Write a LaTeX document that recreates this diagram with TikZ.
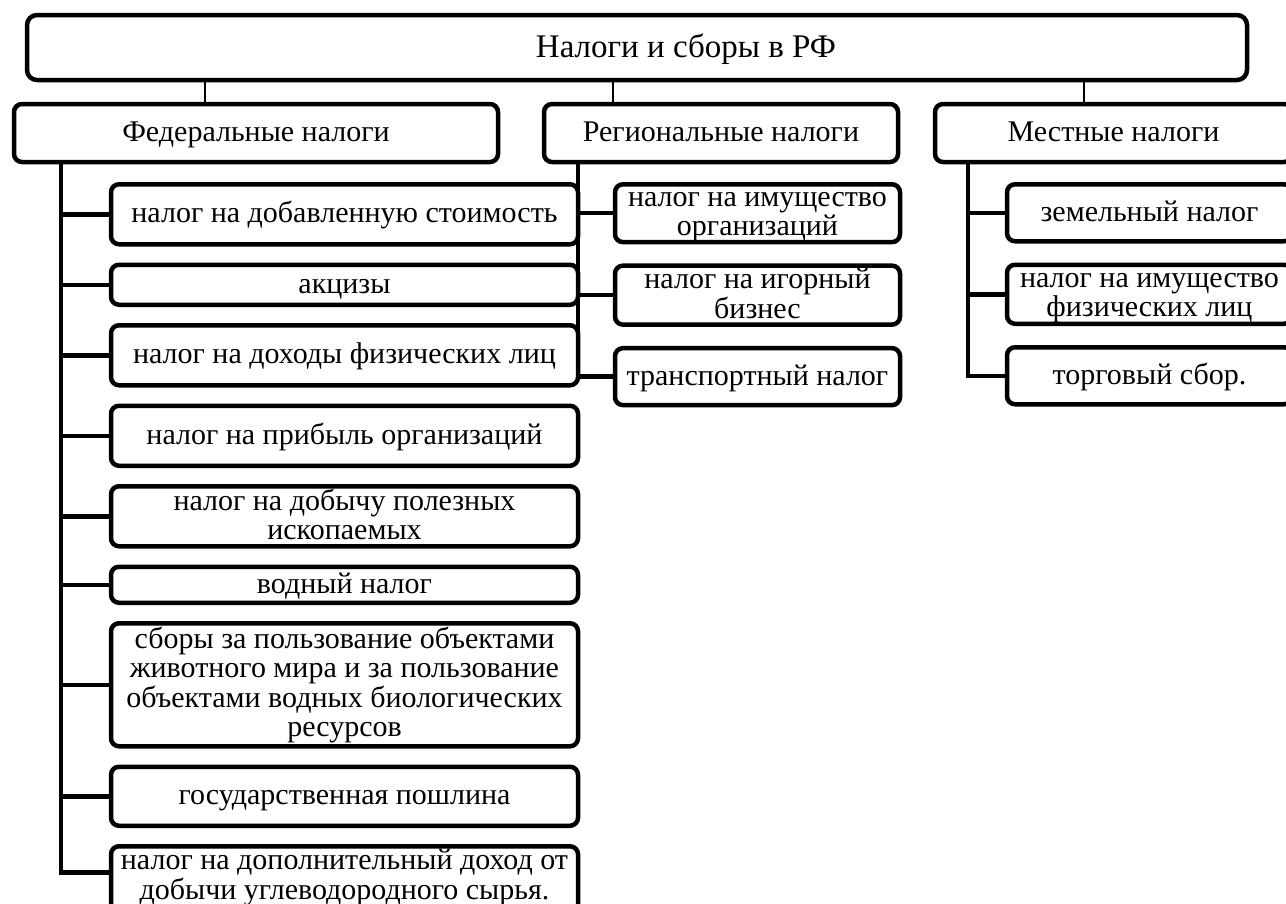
\documentclass[tikz,border=0pt]{standalone}
\usepackage{fontspec}
\setmainfont{Liberation Serif}
\usetikzlibrary{positioning}

\newcommand{\taxstrut}{\rule[-5pt]{0pt}{27pt}}

\begin{document}
\begin{tikzpicture}[
    x=1pt, y=-1pt,
    node distance=16pt,
    taxbox/.style={draw, line width=4.5pt, rounded corners=8pt, inner sep=0pt, text height=22pt, text depth=5pt, font=\fontsize{30}{29.5}\selectfont},
    lines/.style={align=center, text height=, text depth=},
    rootbox/.style={taxbox, rounded corners=10pt, minimum width=1220pt, minimum height=65pt, text height=24pt, font=\fontsize{33}{36}\selectfont},
    headbox/.style={taxbox, minimum height=58pt},
    fedbox/.style={taxbox, minimum width=467pt},
    sidebox/.style={taxbox, minimum width=285pt},
    link/.style={line width=4.5pt},
    stem/.style={line width=1.5pt}
]
\clip (0,0) rectangle (1286,903);

% Nodes
\node[rootbox] (root) at (637,47.5) {\hspace*{98pt}Налоги и сборы в РФ};

\node[headbox, minimum width=484pt] (federal) at (256,133) {Федеральные налоги};
\node[headbox, minimum width=354pt] (regional) at (721,133) {Региональные налоги};
\node[headbox, minimum width=357pt] (local) at (1113.5,133) {Местные налоги};

\node[fedbox, minimum height=60pt, anchor=north] (vat) at (344.5,182) {налог на добавленную стоимость};
\node[fedbox, minimum height=40pt, below=of vat] (excise) {акцизы};
\node[fedbox, minimum height=60pt, below=of excise] (ndfl) {налог на доходы физических лиц};
\node[fedbox, minimum height=60pt, below=of ndfl] (profit) {налог на прибыль организаций};
\node[fedbox, lines, minimum height=60pt, below=of profit] (mining) {\taxstrut налог на добычу полезных\\ископаемых\taxstrut};
\node[fedbox, minimum height=36pt, below=of mining] (water) {водный налог};
\node[fedbox, lines, minimum height=123pt, below=of water] (fauna) {\taxstrut сборы за пользование объектами\\животного мира и за пользование\\объектами водных биологических\\ресурсов\taxstrut};
\node[fedbox, minimum height=59pt, below=of fauna] (duty) {государственная пошлина};
\node[fedbox, lines, minimum height=70pt, below=of duty] (extra) {\taxstrut налог на дополнительный доход от\\добычи углеводородного сырья.\rule[-16pt]{0pt}{0pt}};

\node[sidebox, lines, minimum height=57pt, anchor=north] (property) at (757.5,182) {\taxstrut налог на имущество\\организаций\taxstrut};
\node[sidebox, lines, minimum height=59pt, below=19pt of property] (gambling) {\taxstrut налог на игорный\\бизнес\taxstrut};
\node[sidebox, minimum height=57pt, below=19pt of gambling] (transport) {транспортный налог};

\node[sidebox, minimum height=57pt, anchor=north] (land) at (1149.5,182) {земельный налог};
\node[sidebox, lines, minimum height=59pt, below=19pt of land] (estate) {\taxstrut налог на имущество\\физических лиц\taxstrut};
\node[sidebox, minimum height=57pt, below=19pt of estate] (trade) {торговый сбор.};

% Lines
\coordinate (fedstem) at ([xshift=193.25pt]federal.north west);
\coordinate (regstem) at ([xshift=71.25pt]regional.north west);
\coordinate (locstem) at ([xshift=151pt]local.north west);
\foreach \s in {fedstem,regstem,locstem}
    \draw[stem] (\s) -- (\s |- root.south);

\foreach \n in {vat,excise,ndfl,profit,mining,water,fauna,duty}
    \draw[link] ([xshift=49pt]federal.south west) |- (\n.west);
\draw[link] ([xshift=49pt]federal.south west) |- ([yshift=9pt]extra.west);
\foreach \n in {property,gambling,transport}
    \draw[link] ([xshift=36pt]regional.south west) |- (\n.west);
\foreach \n in {land,estate,trade}
    \draw[link] ([xshift=35pt]local.south west) |- (\n.west);

\end{tikzpicture}
\end{document}
